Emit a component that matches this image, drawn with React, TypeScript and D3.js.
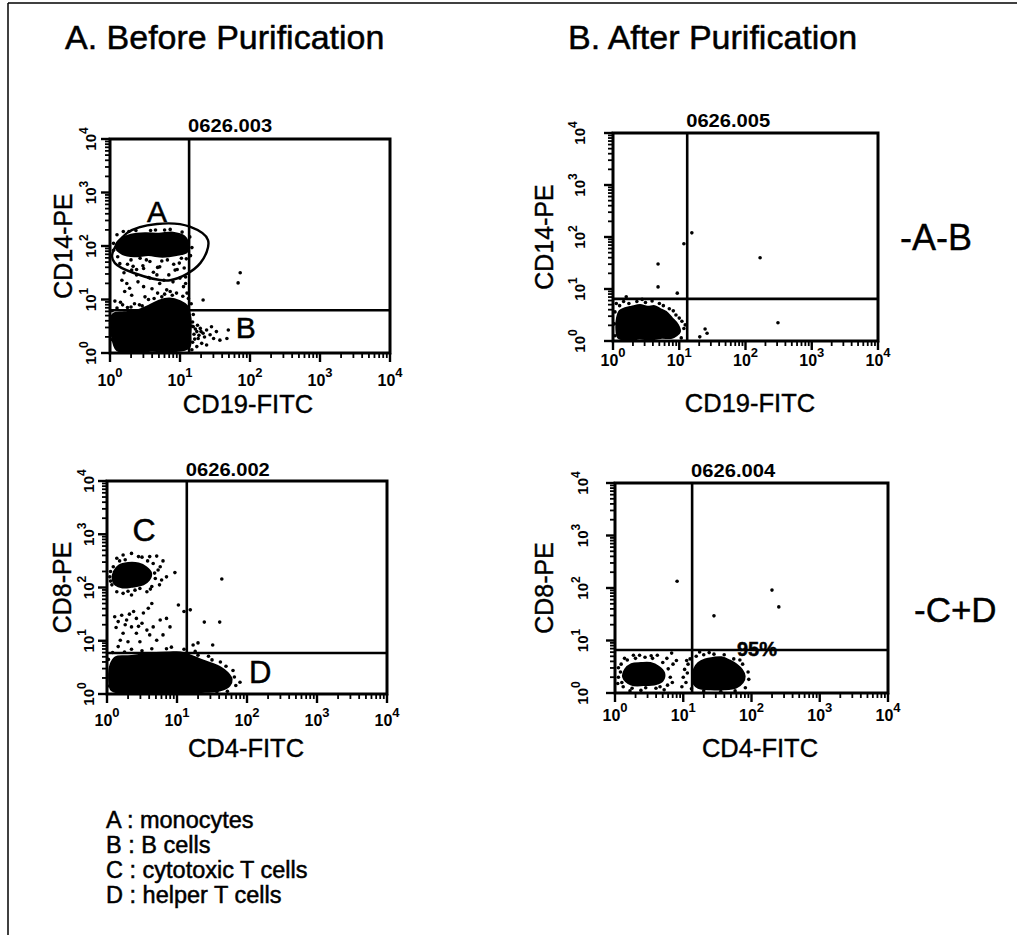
import React from "react";
import * as d3 from "d3";

type P = [number, number];

// ---------- data (fluorescence values in log10 decades, 0 = 10^0 ... 4 = 10^4) ----------
const decades = [0, 1, 2, 3, 4];
const exponentLabels = ["0", "1", "2", "3", "4"];
const sampleIds = ["0626.003", "0626.005", "0626.002", "0626.004"];
const xChannels = ["CD19-FITC", "CD19-FITC", "CD4-FITC", "CD4-FITC"];
const yChannels = ["CD14-PE", "CD14-PE", "CD8-PE", "CD8-PE"];
const quadGateX = [1.13, 1.12, 1.14, 1.13];
const quadGateY = [0.8, 0.81, 0.77, 0.82];
const columnTitles = ["A. Before Purification", "B. After Purification"];
const rowLabels = ["-A-B", "-C+D"];
const legendItems = ["A : monocytes", "B : B cells", "C : cytotoxic T cells", "D : helper T cells"];

// panel 1 : before purification, CD19 / CD14
const monocyteGate: P[] = [[0.03, 1.83], [0.24, 2.24], [0.67, 2.41], [1.14, 2.36], [1.4, 2.11], [1.29, 1.68], [0.86, 1.36], [0.33, 1.5], [0.07, 1.68]];
const monocyteCore: P[] = [[0.08, 1.98], [0.14, 2.12], [0.3, 2.21], [0.5, 2.24], [0.7, 2.23], [0.9, 2.25], [1.06, 2.18], [1.12, 2.03], [1.1, 1.89], [0.95, 1.83], [0.75, 1.8], [0.55, 1.83], [0.35, 1.81], [0.18, 1.85]];
const monocyteDots: P[] = [[0.05, 2.05], [0.1, 2.21], [0.19, 2.27], [0.37, 2.29], [0.58, 2.29], [0.78, 2.3], [0.86, 2.31], [1.03, 2.26], [1.14, 2.17], [1.17, 1.97], [1.15, 1.82], [0.05, 1.92], [0.11, 1.8], [0.3, 1.74], [0.43, 1.77], [0.57, 1.71], [0.82, 1.74], [1.02, 1.77], [0.25, 1.66], [0.47, 1.63], [0.68, 1.6], [0.91, 1.66], [1.06, 1.59], [0.38, 1.56], [0.62, 1.51], [0.84, 1.46], [0.96, 1.56], [0.2, 1.5], [0.55, 1.41], [0.77, 1.36], [1.08, 1.42], [0.74, 1.72], [0.52, 1.74], [0.99, 1.68], [0.33, 1.62], [0.14, 1.67], [1.09, 1.76], [0.65, 2.3], [0.27, 2.27]];
const lymphBeforeCore: P[] = [[0.04, 0.72], [0.2, 0.76], [0.4, 0.8], [0.55, 0.88], [0.7, 0.98], [0.85, 1.02], [1.0, 0.97], [1.1, 0.88], [1.15, 0.65], [1.15, 0.35], [1.13, 0.1], [0.9, 0.03], [0.6, 0.04], [0.3, 0.02], [0.1, 0.05], [0.03, 0.3]];
const lymphBeforeDots: P[] = [[0.17, 1.36], [0.24, 1.3], [0.38, 1.46], [0.4, 1.33], [0.48, 1.24], [0.57, 1.4], [0.67, 1.46], [0.71, 1.3], [0.81, 1.18], [0.9, 1.33], [1.0, 1.4], [1.05, 1.24], [1.1, 1.12], [0.31, 1.08], [0.5, 1.05], [0.21, 1.15], [0.93, 1.55], [0.71, 1.61], [0.48, 1.58], [0.31, 1.55], [1.33, 0.99], [0.15, 0.95], [0.35, 0.92], [0.55, 1.0], [0.95, 1.12], [1.12, 1.02], [0.25, 0.85], [0.42, 0.9], [1.16, 0.92], [0.03, 0.79], [0.1, 0.84], [0.3, 0.86], [0.01, 0.55], [0.01, 0.25], [1.19, 0.72], [1.18, 0.2], [0.63, 1.02], [0.78, 1.1], [0.86, 1.15], [0.68, 1.12], [1.04, 1.06], [0.46, 0.88], [0.18, 0.9], [0.07, 0.97], [0.6, 1.2], [1.08, 1.3], [0.28, 1.21], [0.89, 1.08], [0.74, 1.05], [1.18, 0.5]];
const bCellDots: P[] = [[1.19, 0.49], [1.24, 0.4], [1.29, 0.46], [1.33, 0.37], [1.26, 0.27], [1.38, 0.43], [1.43, 0.34], [1.31, 0.18], [1.48, 0.27], [1.52, 0.4], [1.57, 0.24], [1.67, 0.27], [1.69, 0.43], [1.38, 0.15], [1.24, 0.12], [1.17, 0.06], [1.45, 0.49], [1.2, 0.35], [1.22, 0.45], [1.27, 0.33], [1.3, 0.4], [1.25, 0.52], [1.35, 0.3], [1.21, 0.26], [1.18, 0.58], [1.86, 1.5], [1.83, 1.31]];

// panel 2 : after purification, CD19 / CD14
const lymphAfterCore: P[] = [[0.06, 0.44], [0.1, 0.58], [0.18, 0.63], [0.28, 0.66], [0.41, 0.69], [0.52, 0.66], [0.63, 0.67], [0.72, 0.61], [0.8, 0.56], [0.89, 0.44], [0.98, 0.31], [1.01, 0.18], [0.95, 0.1], [0.89, 0.06], [0.72, 0.06], [0.56, 0.03], [0.4, 0.05], [0.26, 0.02], [0.08, 0.06], [0.05, 0.25]];
const lymphAfterDots: P[] = [[0.1, 0.68], [0.24, 0.72], [0.49, 0.74], [0.7, 0.72], [0.85, 0.62], [0.95, 0.5], [1.04, 0.38], [1.07, 0.24], [1.03, 0.06], [0.03, 0.56], [0.02, 0.33], [0.03, 0.1], [0.36, 0.76], [0.59, 0.77], [0.91, 0.58], [1.09, 0.31], [0.16, 0.76], [1.0, 0.44], [0.76, 0.68], [0.44, 0.8], [0.2, 0.85], [0.68, 1.04], [0.68, 1.48], [0.97, 0.92], [1.07, 1.87], [1.19, 2.08], [2.22, 1.6], [2.49, 0.35], [1.39, 0.23], [1.42, 0.15], [1.31, 0.08], [0.05, 0.72]];

// panel 3 : before purification, CD4 / CD8
const cytotoxicCore: P[] = [[0.08, 2.15], [0.1, 2.3], [0.17, 2.41], [0.3, 2.46], [0.45, 2.45], [0.56, 2.38], [0.63, 2.27], [0.6, 2.14], [0.52, 2.06], [0.38, 2.02], [0.22, 2.0], [0.12, 2.05]];
const cytotoxicDots: P[] = [[0.09, 2.39], [0.14, 2.55], [0.23, 2.61], [0.35, 2.64], [0.5, 2.57], [0.61, 2.58], [0.71, 2.59], [0.66, 2.45], [0.73, 2.33], [0.69, 2.17], [0.64, 2.02], [0.57, 1.92], [0.47, 1.98], [0.35, 1.86], [0.23, 1.89], [0.14, 1.92], [0.07, 2.05], [0.04, 2.2], [0.97, 2.28], [0.76, 2.39], [0.8, 2.5], [0.45, 2.58], [0.26, 2.52], [0.05, 2.3], [0.85, 2.2], [0.75, 2.05], [0.68, 2.27], [0.4, 1.95], [0.18, 2.5], [0.58, 2.5], [0.3, 1.93], [0.62, 1.97], [0.78, 2.14], [0.05, 2.12]];
const midBeforeDots: P[] = [[0.11, 1.45], [0.16, 1.36], [0.21, 1.48], [0.28, 1.39], [0.35, 1.26], [0.42, 1.42], [0.52, 1.52], [0.59, 1.61], [0.64, 1.7], [0.5, 1.33], [0.57, 1.2], [0.66, 1.26], [0.76, 1.39], [0.85, 1.42], [0.8, 1.11], [0.61, 1.11], [0.42, 1.14], [0.23, 1.14], [0.19, 1.01], [0.3, 0.98], [0.47, 0.98], [0.16, 0.89], [0.71, 1.01], [0.9, 1.26], [0.38, 1.55], [0.26, 1.3], [0.13, 1.25], [0.32, 1.5], [0.45, 1.27]];
const helperBeforeCore: P[] = [[0.05, 0.55], [0.12, 0.69], [0.3, 0.71], [0.5, 0.74], [0.7, 0.77], [0.9, 0.78], [1.05, 0.78], [1.2, 0.72], [1.35, 0.64], [1.5, 0.57], [1.62, 0.5], [1.72, 0.4], [1.78, 0.28], [1.75, 0.16], [1.62, 0.07], [1.4, 0.04], [1.1, 0.03], [0.8, 0.03], [0.5, 0.03], [0.2, 0.02], [0.06, 0.08], [0.03, 0.3]];
const helperBeforeDots: P[] = [[0.02, 0.65], [0.08, 0.78], [0.25, 0.79], [0.5, 0.81], [0.85, 0.85], [1.1, 0.84], [1.3, 0.73], [1.5, 0.64], [1.7, 0.52], [1.82, 0.32], [1.84, 0.16], [1.72, 0.05], [0.01, 0.15], [0.92, 0.88], [1.26, 0.8], [1.62, 0.6], [1.8, 0.44], [0.35, 0.84], [1.45, 0.71], [0.64, 0.85], [1.57, 0.04], [1.64, 2.16], [1.39, 1.35], [1.61, 1.35], [1.02, 1.67], [1.1, 1.55], [1.19, 1.58], [1.23, 0.92], [1.3, 0.96], [1.51, 0.92], [1.9, 0.22]];

// panel 4 : after purification, CD4 / CD8
const negativeAfterCore: P[] = [[0.12, 0.3], [0.15, 0.45], [0.24, 0.55], [0.38, 0.57], [0.52, 0.57], [0.64, 0.5], [0.72, 0.38], [0.7, 0.24], [0.6, 0.17], [0.42, 0.15], [0.24, 0.16]];
const negativeAfterDots: P[] = [[0.08, 0.4], [0.09, 0.55], [0.1, 0.2], [0.18, 0.63], [0.3, 0.66], [0.44, 0.68], [0.55, 0.66], [0.7, 0.58], [0.78, 0.46], [0.81, 0.3], [0.77, 0.15], [0.6, 0.09], [0.45, 0.1], [0.25, 0.09], [0.12, 0.12], [0.36, 0.72], [0.62, 0.72], [0.85, 0.55], [0.9, 0.62], [0.05, 0.3], [0.22, 0.04], [0.72, 0.06], [0.83, 0.76], [0.05, 0.48], [0.14, 0.66], [0.53, 0.71], [0.76, 0.66], [0.84, 0.2], [0.38, 0.05], [0.66, 0.12], [0.04, 0.18], [0.27, 0.72]];
const helperAfterCore: P[] = [[1.13, 0.3], [1.16, 0.46], [1.22, 0.57], [1.32, 0.64], [1.44, 0.67], [1.56, 0.68], [1.68, 0.62], [1.78, 0.54], [1.86, 0.44], [1.9, 0.32], [1.87, 0.2], [1.78, 0.11], [1.6, 0.07], [1.4, 0.07], [1.22, 0.1], [1.15, 0.18]];
const helperAfterDots: P[] = [[1.0, 0.3], [1.02, 0.45], [1.04, 0.2], [1.07, 0.55], [1.1, 0.65], [1.19, 0.7], [1.3, 0.73], [1.45, 0.74], [1.6, 0.73], [1.74, 0.65], [1.87, 0.55], [1.95, 0.4], [1.96, 0.26], [1.91, 0.1], [1.76, 0.04], [1.55, 0.03], [1.3, 0.04], [1.12, 0.08], [1.24, 0.78], [1.05, 0.62], [0.98, 0.12], [1.38, 0.77], [1.83, 0.63], [1.06, 0.38], [0.91, 2.13], [1.45, 1.47], [2.3, 1.96], [2.4, 1.64]];

type Note = { text: string; x: number; y: number; size: number; bold?: boolean };
const panelCores: P[][][] = [[monocyteCore, lymphBeforeCore], [lymphAfterCore], [cytotoxicCore, helperBeforeCore], [negativeAfterCore, helperAfterCore]];
const panelDots: P[][][] = [[monocyteDots, lymphBeforeDots, bCellDots], [lymphAfterDots], [cytotoxicDots, midBeforeDots, helperBeforeDots], [negativeAfterDots, helperAfterDots]];
const panelGates: P[][][] = [[monocyteGate], [], [], []];
const panelNotes: Note[][] = [
  [{ text: "A", x: 0.67, y: 2.64, size: 30 }, { text: "B", x: 1.94, y: 0.47, size: 30 }],
  [],
  [{ text: "C", x: 0.53, y: 3.08, size: 32 }, { text: "D", x: 2.19, y: 0.41, size: 31 }],
  [{ text: "95%", x: 2.08, y: 0.71, size: 20, bold: true }],
];

// ---------- layout ----------
const W = 1017;
const H = 935;
const FONT = "'Liberation Sans', Arial, Helvetica, sans-serif";
const layout = [
  { x0: 110, x1: 390, y0: 139, y1: 353, yTickX: 96, yTitleX: 72, xTickY: 386, xTitleY: 413, xTitleCx: 248, idY: 132 },
  { x0: 613, x1: 878, y0: 133, y1: 341, yTickX: 585, yTitleX: 553, xTickY: 366, xTitleY: 412, xTitleCx: 750, idY: 127 },
  { x0: 107, x1: 387, y0: 481, y1: 694, yTickX: 94, yTitleX: 71, xTickY: 726, xTitleY: 757, xTitleCx: 246, idY: 476 },
  { x0: 615, x1: 888, y0: 483, y1: 693, yTickX: 588, yTitleX: 553, xTickY: 721, xTitleY: 757, xTitleCx: 760, idY: 477 },
];

const minorTicks: number[] = [];
for (let d = 0; d < 4; d++) for (let k = 2; k <= 9; k++) minorTicks.push(d + Math.log10(k));

function Panel({ i }: { i: number }) {
  const L = layout[i];
  const xs = d3.scaleLinear().domain([0, 4]).range([L.x0, L.x1]);
  const ys = d3.scaleLinear().domain([0, 4]).range([L.y1, L.y0]);
  const blob = d3.line<P>().x((d) => xs(d[0])).y((d) => ys(d[1])).curve(d3.curveCatmullRomClosed.alpha(0.5));
  const gx = xs(quadGateX[i]);
  const gy = ys(quadGateY[i]);
  return (
    <g>
      {panelCores[i].map((c, k) => (
        <path key={"c" + k} d={blob(c) || ""} fill="#000" stroke="#000" strokeWidth={2} />
      ))}
      {panelDots[i].map((set, k) =>
        set.map((p, j) => <circle key={"d" + k + "_" + j} cx={xs(p[0])} cy={ys(p[1])} r={1.8} fill="#000" />)
      )}
      {panelGates[i].map((g, k) => (
        <path key={"g" + k} d={blob(g) || ""} fill="none" stroke="#000" strokeWidth={2.4} />
      ))}
      {panelNotes[i].map((n, k) => (
        <text key={"n" + k} x={xs(n.x)} y={ys(n.y)} fontSize={n.size} fontWeight={n.bold ? 700 : 400} textAnchor="middle" dominantBaseline={n.bold ? "auto" : "central"} fontFamily={FONT} fill="#000" stroke="#000" strokeWidth={0.5}>
          {n.text}
        </text>
      ))}
      {/* quadrant gate */}
      <line x1={gx} x2={gx} y1={L.y0} y2={L.y1} stroke="#000" strokeWidth={2.6} />
      <line x1={L.x0} x2={L.x1} y1={gy} y2={gy} stroke="#000" strokeWidth={2.6} />
      {/* frame */}
      <rect x={L.x0} y={L.y0} width={L.x1 - L.x0} height={L.y1 - L.y0} fill="none" stroke="#000" strokeWidth={3} />
      {/* ticks */}
      {minorTicks.map((t, k) => (
        <g key={"m" + k}>
          <line x1={L.x0} x2={L.x0 - 5} y1={ys(t)} y2={ys(t)} stroke="#000" strokeWidth={1.8} />
          <line x1={xs(t)} x2={xs(t)} y1={L.y1} y2={L.y1 + 5} stroke="#000" strokeWidth={1.8} />
        </g>
      ))}
      {decades.map((t, k) => (
        <g key={"M" + k}>
          <line x1={L.x0} x2={L.x0 - 9} y1={ys(t)} y2={ys(t)} stroke="#000" strokeWidth={2.4} />
          <line x1={xs(t)} x2={xs(t)} y1={L.y1} y2={L.y1 + 9} stroke="#000" strokeWidth={2.4} />
          <text x={xs(t)} y={L.xTickY} textAnchor="middle" fontFamily={FONT} fontWeight={700} fontSize={16} fill="#000">
            <tspan>10</tspan>
            <tspan dy={-9} fontSize={13}>{exponentLabels[k]}</tspan>
          </text>
          <text transform={`translate(${L.yTickX},${ys(t)}) rotate(-90)`} textAnchor="middle" fontFamily={FONT} fontWeight={700} fontSize={15} fill="#000">
            <tspan>10</tspan>
            <tspan dy={-8} fontSize={12}>{exponentLabels[k]}</tspan>
          </text>
        </g>
      ))}
      {/* titles */}
      <text x={gx - 1} y={L.idY} fontFamily={FONT} fontWeight={700} fontSize={18} textLength={84} lengthAdjust="spacingAndGlyphs" fill="#000">
        {sampleIds[i]}
      </text>
      <text x={L.xTitleCx} y={L.xTitleY} textAnchor="middle" fontFamily={FONT} fontSize={25.5} fill="#000" stroke="#000" strokeWidth={0.4}>
        {xChannels[i]}
      </text>
      <text transform={`translate(${L.yTitleX},${(L.y0 + L.y1) / 2}) rotate(-90)`} textAnchor="middle" fontFamily={FONT} fontSize={25} fill="#000" stroke="#000" strokeWidth={0.4}>
        {yChannels[i]}
      </text>
    </g>
  );
}

export default function App() {
  return (
    <svg width={W} height={H} style={{ position: "absolute", left: 0, top: 0, background: "#fff" }}>
      <rect x={0} y={0} width={W} height={H} fill="#fff" />
      <line x1={8} x2={W} y1={3} y2={3} stroke="#000" strokeWidth={1.5} />
      <line x1={8} x2={8} y1={3} y2={H} stroke="#000" strokeWidth={1.5} />
      <text x={65} y={49} fontFamily={FONT} fontSize={34} fill="#000" stroke="#000" strokeWidth={0.5}>{columnTitles[0]}</text>
      <text x={568} y={49} fontFamily={FONT} fontSize={34} fill="#000" stroke="#000" strokeWidth={0.5}>{columnTitles[1]}</text>
      <text x={900} y={250} fontFamily={FONT} fontSize={36} fill="#000" stroke="#000" strokeWidth={0.4}>{rowLabels[0]}</text>
      <text x={914} y={622} fontFamily={FONT} fontSize={35} fill="#000" stroke="#000" strokeWidth={0.4}>{rowLabels[1]}</text>
      {layout.map((_, i) => (
        <Panel key={i} i={i} />
      ))}
      {legendItems.map((t, k) => (
        <text key={t} x={106} y={828 + k * 25} fontFamily={FONT} fontSize={23.5} fill="#000" stroke="#000" strokeWidth={0.5}>
          {t}
        </text>
      ))}
    </svg>
  );
}
